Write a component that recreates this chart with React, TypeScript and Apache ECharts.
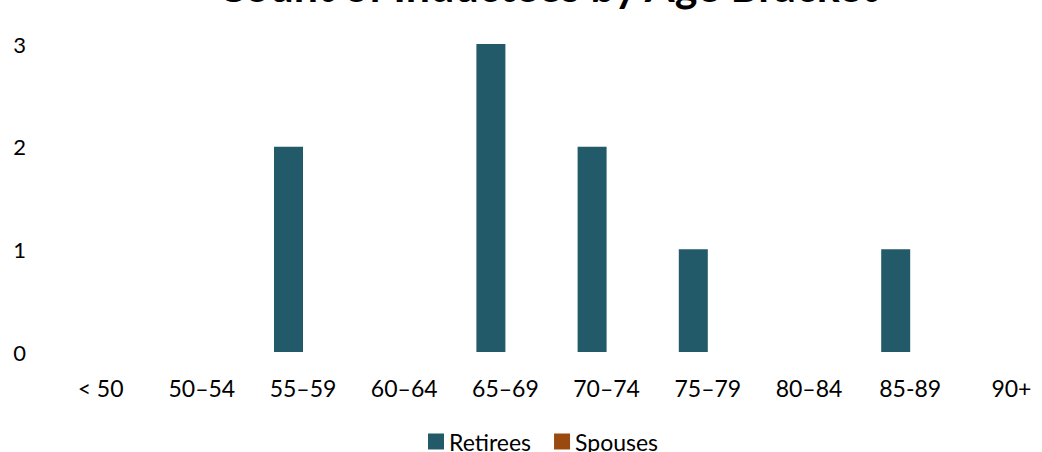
import React, { useEffect, useRef } from "react";
import * as echarts from "echarts";

const categories = ["< 50", "50–54", "55–59", "60–64", "65–69", "70–74", "75–79", "80–84", "85-89", "90+"];
const retirees = [0, 0, 2, 0, 3, 2, 1, 0, 1, 0];
const spouses = [0, 0, 0, 0, 0, 0, 0, 0, 0, 0];
const yTicks = [0, 1, 2, 3];

const FONT = "Lato, 'Open Sans', sans-serif";

export default function App() {
  const ref = useRef<HTMLDivElement>(null);

  useEffect(() => {
    if (!ref.current) return;
    const chart = echarts.init(ref.current, undefined, { renderer: "svg" });
    chart.setOption({
      animation: false,
      title: {
        text: "Count of Inductees by Age Bracket",
        left: 542,
        textAlign: "center",
        top: -41,
        textStyle: { fontFamily: FONT, fontSize: 43, fontWeight: "bold", color: "#000" },
      },
      legend: {
        left: 423,
        top: 425,
        itemWidth: 16,
        itemHeight: 16,
        itemGap: 23,
        icon: "rect",
        textStyle: { fontFamily: FONT, fontSize: 23, color: "#000" },
        data: ["Retirees", "Spouses"],
      },
      grid: { left: 50, right: 0, top: 44, bottom: 100 },
      xAxis: {
        type: "category",
        data: categories,
        axisLine: { show: false },
        axisTick: { show: false },
        axisLabel: { fontFamily: FONT, fontSize: 23, color: "#000", margin: 24 },
      },
      yAxis: {
        type: "value",
        min: yTicks[0],
        max: yTicks[yTicks.length - 1],
        interval: 1,
        splitLine: { show: false },
        axisLine: { show: false },
        axisTick: { show: false },
        axisLabel: { fontFamily: FONT, fontSize: 22, color: "#000", margin: 24 },
      },
      series: [
        {
          name: "Retirees",
          type: "bar",
          data: retirees,
          barWidth: 29,
          barGap: "0%",
          itemStyle: { color: "#235a69" },
        },
        {
          name: "Spouses",
          type: "bar",
          data: spouses,
          barWidth: 29,
          itemStyle: { color: "#9b4a0f" },
        },
      ],
    });
    return () => chart.dispose();
  }, []);

  return (
    <div
      style={{
        position: "fixed",
        left: 0,
        top: 0,
        width: 1042,
        height: 452,
        overflow: "hidden",
        background: "#fff",
      }}
    >
      <div ref={ref} style={{ width: 1062, height: 452 }} />
    </div>
  );
}
